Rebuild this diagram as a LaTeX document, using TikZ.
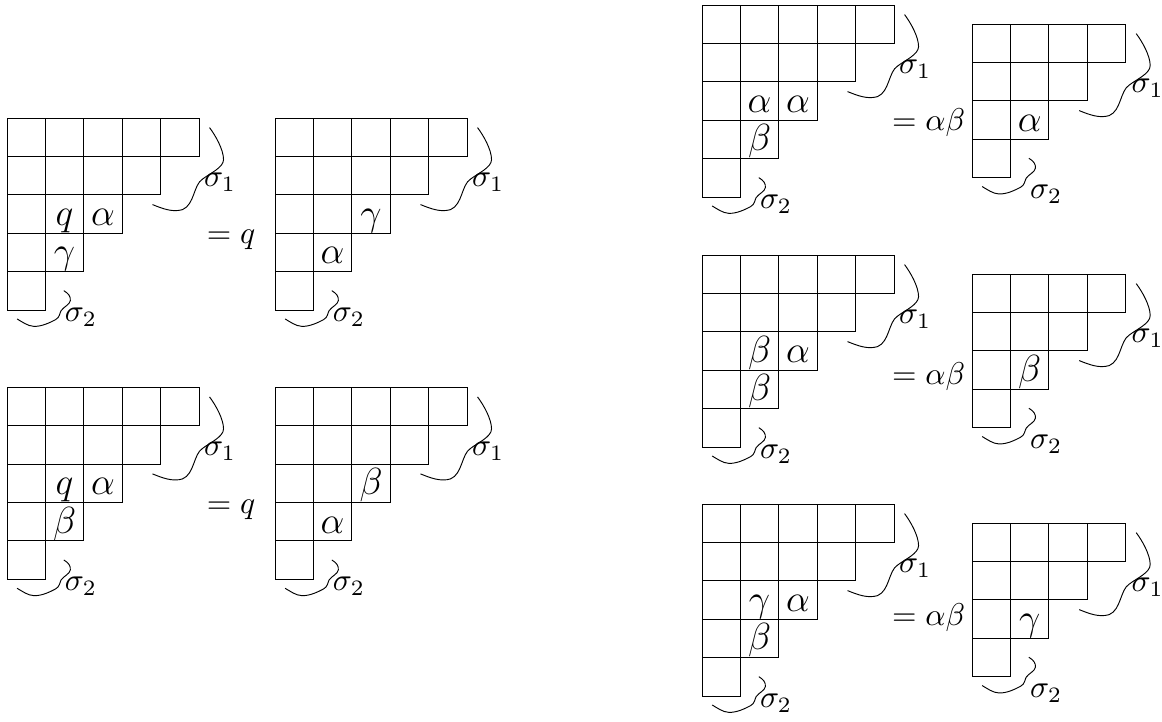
\documentclass[tikz,border=0pt]{standalone}
\usepackage{amsmath, amssymb}
\usepackage{tikz}
\usetikzlibrary{positioning}

\tikzset{
  cell/.style={draw, rectangle, minimum size=12.2pt, inner sep=0pt, line width=0.3pt},
  lab/.style={anchor=base, yshift=2.6pt, inner sep=0pt, font=\large},
  siglab/.style={anchor=base west, inner sep=0pt},
  eqlab/.style={anchor=base, inner sep=0pt},
  wavy/.style={x=0.3177pt, y=-0.3177pt, line width=0.3pt},
}

% staircase tableau: name, x, y, number of rows
\newcommand{\stairtab}[4]{%
  \foreach \i in {1,...,#4} {
    \pgfmathtruncatemacro{\len}{#4+1-\i}
    \foreach \j in {1,...,\len} {
      \node[cell] (#1-\i-\j) at ({#2+\j-0.5},{#3+\i-0.5}) {};
    }
  }
  \pgfmathsetmacro{\sax}{#4==5 ? -6 : -5}
  \pgfmathsetmacro{\sby}{#4==5 ? 31 : 40.5}
  % sigma_1
  \draw[shift={([xshift=3.2pt,yshift=-3.2pt]#1-1-#4.north east)}, wavy]
    (0,0) .. controls (6,8) and (14,22) .. (14,32)
    .. controls (14,40) and (0,46) .. (-7,51.5)
    .. controls (-16,57) and (-15,77) .. (-27,82)
    .. controls (-37,85) and (-47,81) .. (-57,77)
    node[siglab] (#1-s1) at (\sax,59) {$\sigma_1$};
  % sigma_2
  \draw[shift={([xshift=5.7pt,yshift=-6.2pt]#1-#4-1.north east)}, wavy]
    (0,0) .. controls (5,3) and (7,6) .. (6.5,10)
    .. controls (6,14) and (0,16) .. (-2.7,20)
    .. controls (-4,22) and (-4,27) .. (-8.3,29)
    .. controls (-14,32) and (-22,36) .. (-30,35.7)
    .. controls (-36,35.5) and (-42,31) .. (-46.7,28.3)
    node[siglab] (#1-s2) at (0.7,\sby) {$\sigma_2$};
}

\begin{document}
\begin{tikzpicture}[x=12.2pt, y=-12.2pt]
  \useasboundingbox (0,0) rectangle (30.26,18.776);

  % Left column
  \stairtab{T1}{0.182}{3.073}{5}
  \stairtab{T2}{7.161}{3.073}{5}
  \stairtab{T3}{0.182}{10.086}{5}
  \stairtab{T4}{7.161}{10.086}{5}

  \node[lab] (T1a) at (T1-3-2.south) {$q$};
  \node[lab] (T1b) at (T1-3-3.south) {$\alpha$};
  \node[lab] (T1c) at (T1-4-2.south) {$\gamma$};
  \node[eqlab] (e1) at (6.016,6.354) {$=q$};
  \node[lab] (T2a) at (T2-3-3.south) {$\gamma$};
  \node[lab] (T2b) at (T2-4-2.south) {$\alpha$};

  \node[lab] (T3a) at (T3-3-2.south) {$q$};
  \node[lab] (T3b) at (T3-3-3.south) {$\alpha$};
  \node[lab] (T3c) at (T3-4-2.south) {$\beta$};
  \node[eqlab] (e2) at (6.016,13.37) {$=q$};
  \node[lab] (T4a) at (T4-3-3.south) {$\beta$};
  \node[lab] (T4b) at (T4-4-2.south) {$\alpha$};

  % Right column
  \stairtab{T5}{18.281}{0.130}{5}
  \stairtab{T6}{25.313}{0.625}{4}
  \stairtab{T7}{18.281}{6.641}{5}
  \stairtab{T8}{25.313}{7.135}{4}
  \stairtab{T9}{18.281}{13.125}{5}
  \stairtab{T10}{25.313}{13.620}{4}

  \node[lab] (T5a) at (T5-3-2.south) {$\alpha$};
  \node[lab] (T5b) at (T5-3-3.south) {$\alpha$};
  \node[lab] (T5c) at (T5-4-2.south) {$\beta$};
  \node[eqlab] (e3) at (24.18,3.411) {$=\alpha\beta$};
  \node[lab] (T6a) at (T6-3-2.south) {$\alpha$};

  \node[lab] (T7a) at (T7-3-2.south) {$\beta$};
  \node[lab] (T7b) at (T7-3-3.south) {$\alpha$};
  \node[lab] (T7c) at (T7-4-2.south) {$\beta$};
  \node[eqlab] (e4) at (24.18,10.02) {$=\alpha\beta$};
  \node[lab] (T8a) at (T8-3-2.south) {$\beta$};

  \node[lab] (T9a) at (T9-3-2.south) {$\gamma$};
  \node[lab] (T9b) at (T9-3-3.south) {$\alpha$};
  \node[lab] (T9c) at (T9-4-2.south) {$\beta$};
  \node[eqlab] (e5) at (24.18,16.30) {$=\alpha\beta$};
  \node[lab] (T10a) at (T10-3-2.south) {$\gamma$};
\end{tikzpicture}
\end{document}
